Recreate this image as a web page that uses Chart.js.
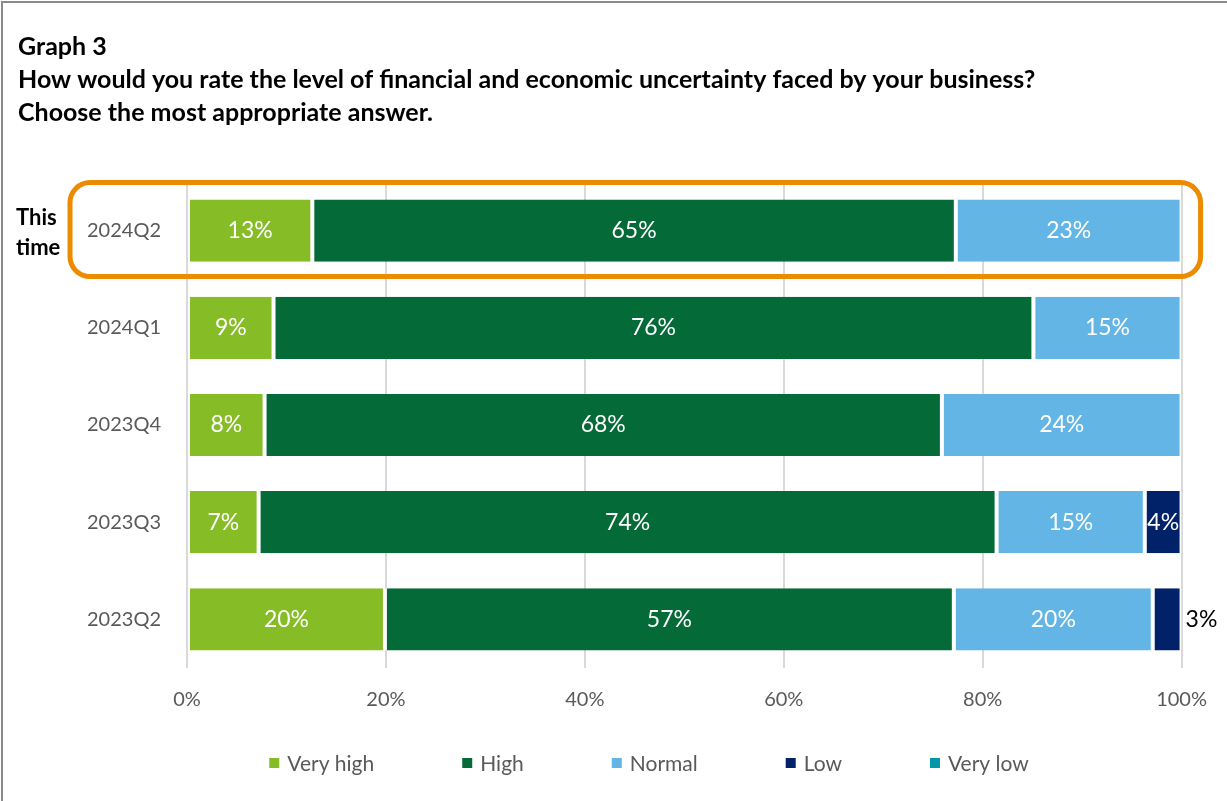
<!DOCTYPE html>
<html>
<head>
<meta charset="utf-8">
<script src="https://cdn.jsdelivr.net/npm/chart.js@4.4.1/dist/chart.umd.min.js"></script>
<style>
  html, body { margin: 0; padding: 0; background: #fff; }
  #wrap { position: relative; width: 1227px; height: 801px; overflow: hidden; }
  #frame { position: absolute; left: 1px; top: 1px; right: 0; bottom: 0;
           border-top: 2px solid #8a8a8a; border-left: 2px solid #8a8a8a; pointer-events: none; }
  canvas { position: absolute; left: 0; top: 0; }
</style>
</head>
<body>
<div id="wrap">
  <canvas id="graph3" width="1227" height="801"></canvas>
  <div id="frame"></div>
</div>
<script>
const FONT = 'Lato, "Open Sans", sans-serif';

const titleLines = [
    'Graph 3',
    'How would you rate the level of financial and economic uncertainty faced by your business?',
    'Choose the most appropriate answer.'
];
const quarters = ['2024Q2', '2024Q1', '2023Q4', '2023Q3', '2023Q2'];
const highlightLabel = ['This', 'time'];

// shares in %, shown rounded
const veryHigh = [12.6, 8.7, 7.8, 7.2, 19.9];
const high     = [64.7, 76.4, 68.1, 74.2, 57.2];
const normal   = [22.7, 14.9, 24.1, 14.9, 20.0];
const low      = [0, 0, 0, 3.7, 2.9];
const veryLow  = [0, 0, 0, 0, 0];

const seriesNames  = ['Very high', 'High', 'Normal', 'Low', 'Very low'];
const seriesColors = ['#86BC25', '#046A38', '#62B5E5', '#012169', '#0097A9'];
const xTicks = [0, 20, 40, 60, 80, 100];

const seriesData = [veryHigh, high, normal, low, veryLow];

// value labels on each segment, pushed outside when the segment is too thin
const segmentLabels = {
    id: 'segmentLabels',
    afterDatasetsDraw(chart) {
        const ctx = chart.ctx;
        ctx.save();
        ctx.font = '23px ' + FONT;
        ctx.textBaseline = 'middle';
        chart.data.datasets.forEach((ds, i) => {
            const meta = chart.getDatasetMeta(i);
            meta.data.forEach((bar, j) => {
                const v = ds.data[j];
                if (!v) return;
                const txt = Math.round(v) + '%';
                const w = ctx.measureText(txt).width;
                const left = Math.min(bar.x, bar.base), right = Math.max(bar.x, bar.base);
                if (w <= right - left - 2) {
                    ctx.fillStyle = '#ffffff';
                    ctx.textAlign = 'center';
                    ctx.fillText(txt, (left + right) / 2, bar.y);
                } else {
                    ctx.fillStyle = '#000000';
                    ctx.textAlign = 'left';
                    ctx.fillText(txt, right + 4, bar.y);
                }
            });
        });
        ctx.restore();
    }
};

// orange box round the latest quarter + "This time" note
const highlight = {
    id: 'highlight',
    afterDraw(chart) {
        const ctx = chart.ctx;
        const y = chart.scales.y;
        const cy = y.getPixelForValue(0);
        const top = cy - 48, bottom = cy + 46;
        const left = 70, right = chart.chartArea.right + 19;
        ctx.save();
        ctx.strokeStyle = '#EC8A00';
        ctx.lineWidth = 5;
        ctx.beginPath();
        ctx.roundRect(left, top, right - left, bottom - top, 20);
        ctx.stroke();

        ctx.fillStyle = '#000000';
        ctx.font = 'bold 22px ' + FONT;
        ctx.textAlign = 'left';
        ctx.textBaseline = 'middle';
        ctx.fillText(highlightLabel[0], 16, cy - 13);
        ctx.fillText(highlightLabel[1], 16, cy + 17);
        ctx.restore();
    }
};

// legend row with wide spacing
const legendRow = {
    id: 'legendRow',
    afterDraw(chart) {
        const ctx = chart.ctx;
        const y = 763, box = 10, gap = 8, spacing = 88;
        ctx.save();
        ctx.font = '21px ' + FONT;
        ctx.textBaseline = 'middle';
        ctx.textAlign = 'left';
        const items = chart.data.datasets.map(ds => ({
            text: ds.label, color: ds.backgroundColor,
            w: box + gap + ctx.measureText(ds.label).width
        }));
        const total = items.reduce((s, it) => s + it.w, 0) + spacing * (items.length - 1);
        let x = 649 - total / 2;
        items.forEach(it => {
            ctx.fillStyle = it.color;
            ctx.fillRect(x, y - box / 2, box, box);
            ctx.fillStyle = '#595959';
            ctx.fillText(it.text, x + box + gap, y + 1);
            x += it.w + spacing;
        });
        ctx.restore();
    }
};

const ctx = document.getElementById('graph3').getContext('2d');
new Chart(ctx, {
    type: 'bar',
    data: {
        labels: quarters,
        datasets: seriesNames.map((name, i) => ({
            label: name,
            data: seriesData[i],
            backgroundColor: seriesColors[i],
            borderColor: '#ffffff',
            borderWidth: { left: 2, right: 2, top: 0, bottom: 0 },
            borderSkipped: false,
            barPercentage: 0.64,
            categoryPercentage: 1
        }))
    },
    options: {
        indexAxis: 'y',
        responsive: false,
        animation: false,
        layout: { padding: { left: 18, right: 44, top: 0, bottom: 80 } },
        scales: {
            x: {
                stacked: true,
                min: 0,
                max: 100,
                afterBuildTicks: s => { s.ticks = xTicks.map(v => ({ value: v })); },
                afterFit: s => { s.height = 53; },
                ticks: {
                    callback: v => v + '%',
                    color: '#595959',
                    font: { size: 20, family: FONT },
                    padding: 20
                },
                grid: { color: '#d9d9d9', lineWidth: 2, drawTicks: false },
                border: { display: false }
            },
            y: {
                stacked: true,
                afterFit: s => { s.width = 169; },
                ticks: {
                    color: '#595959',
                    font: { size: 20, family: FONT },
                    padding: 18
                },
                grid: { display: false },
                border: { display: false }
            }
        },
        plugins: {
            legend: { display: false },
            tooltip: { enabled: false },
            title: {
                display: true,
                align: 'start',
                text: titleLines,
                color: '#000000',
                font: { size: 25, weight: 'bold', family: FONT, lineHeight: 1.32 },
                padding: { top: 30, bottom: 53 }
            }
        }
    },
    plugins: [segmentLabels, highlight, legendRow]
});
</script>
</body>
</html>
